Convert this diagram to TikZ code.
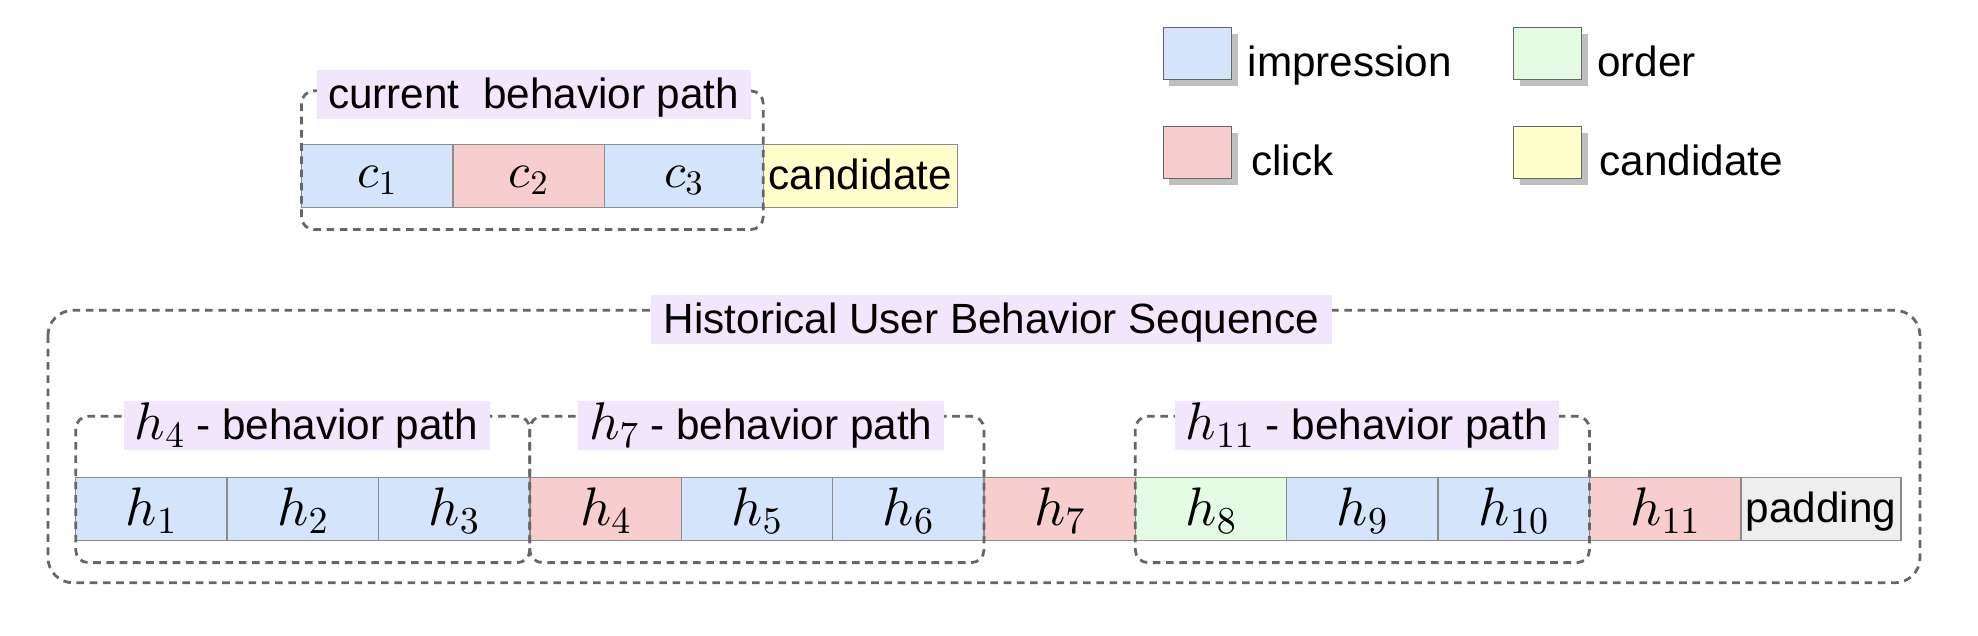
\documentclass[tikz,border=0pt]{standalone}
\usepackage[no-math]{fontspec}
\setmainfont{Liberation Sans}
\DeclareFontFamily{OML}{cmm}{\skewchar\font127}
\DeclareFontShape{OML}{cmm}{m}{it}{<->cmmi10}{}
\DeclareFontShape{OT1}{cmr}{m}{n}{<->cmr10}{}
\DeclareFontFamily{OMS}{cmsy}{\skewchar\font48}
\DeclareFontShape{OMS}{cmsy}{m}{n}{<->cmsy10}{}
\definecolor{impc}{HTML}{D4E4FA}
\definecolor{clickc}{HTML}{F8CDCD}
\definecolor{orderc}{HTML}{E3FCE3}
\definecolor{candc}{HTML}{FFFFCC}
\definecolor{padc}{HTML}{EEEEEE}
\definecolor{lblc}{HTML}{F1E6FC}
\definecolor{dashc}{HTML}{666666}
\definecolor{cellb}{HTML}{8C8C8C}
\definecolor{shadc}{HTML}{BFBFBF}
\begin{document}
\begin{tikzpicture}[x=1pt,y=-1pt,
  every node/.style={font=\fontsize{33.5}{40}\selectfont, inner sep=0pt, outer sep=0pt},
  cell/.style={draw=cellb, line width=1.1pt, minimum height=49.5pt, minimum width=120pt},
  hcell/.style={cell, font=\fontsize{43}{48}\selectfont, text height=26pt, text depth=0pt},
  ccell/.style={cell, minimum height=50pt, font=\fontsize{39}{44}\selectfont, text height=20pt, text depth=2pt},
  tcell/.style={cell, text height=26pt, text depth=4pt},
  pathbox/.style={draw=dashc, line width=2.2pt, dash pattern=on 6pt off 4.5pt, rounded corners=10pt},
  bigbox/.style={pathbox, rounded corners=20pt},
  lbl/.style={fill=lblc, inner xsep=9pt, minimum height=39pt, text height=26pt, text depth=4pt},
  legsq/.style={draw=dashc, line width=0.9pt, minimum width=54pt, minimum height=41pt},
  legshadow/.style={fill=shadc, minimum width=54pt, minimum height=41pt},
  legtxt/.style={anchor=base west},
]
\useasboundingbox (0,0) rectangle (1568,504);

% ---------- legend ----------
\node[legshadow] (simp) at (954,47.5) {};
\node[legsq, fill=impc] (limp) at (949,42.5) {};
\node[legtxt] (timp) at (989,61) {impression};
\node[legshadow] (sord) at (1232,47.5) {};
\node[legsq, fill=orderc] (lord) at (1227,42.5) {};
\node[legtxt] (tord) at (1266,61) {order};
\node[legshadow] (sclk) at (954,126) {};
\node[legsq, fill=clickc] (lclk) at (949,121) {};
\node[legtxt] (tclk) at (992,139) {click};
\node[legshadow] (scand) at (1232,126) {};
\node[legsq, fill=candc] (lcand) at (1227,121) {};
\node[legtxt] (tcand) at (1268,139) {candidate};

% ---------- current behavior path ----------
\node[ccell, fill=impc] (c1) at (299,139.5) {$c_1$};
\node[ccell, fill=clickc] (c2) at (419,139.5) {$c_2$};
\node[ccell, fill=impc, minimum width=126pt] (c3) at (542,139.5) {$c_3$};
\node[tcell, fill=candc, minimum width=154pt, minimum height=50pt] (cand) at (682,139.5) {candidate};
\draw[pathbox] (239,72) rectangle (605,182);
\node[lbl] (curlbl) at (423,75) {current\ \ behavior path};

% ---------- historical sequence ----------
\node[hcell, fill=impc]   (h1)  at (120,403.5) {$h_1$};
\node[hcell, fill=impc]   (h2)  at (240,403.5) {$h_2$};
\node[hcell, fill=impc]   (h3)  at (360,403.5) {$h_3$};
\node[hcell, fill=clickc] (h4)  at (480,403.5) {$h_4$};
\node[hcell, fill=impc]   (h5)  at (600,403.5) {$h_5$};
\node[hcell, fill=impc]   (h6)  at (720,403.5) {$h_6$};
\node[hcell, fill=clickc] (h7)  at (840,403.5) {$h_7$};
\node[hcell, fill=orderc] (h8)  at (960,403.5) {$h_8$};
\node[hcell, fill=impc]   (h9)  at (1080,403.5) {$h_9$};
\node[hcell, fill=impc]   (h10) at (1200,403.5) {$h_{10}$};
\node[hcell, fill=clickc] (h11) at (1320,403.5) {$h_{11}$};
\node[tcell, fill=padc, minimum width=127pt] (pad) at (1443.5,403.5) {padding};

\draw[bigbox] (38,246) rectangle (1522,462);
\draw[pathbox] (60,330) rectangle (420,446);
\draw[pathbox] (420,330) rectangle (780,446);
\draw[pathbox] (900,330) rectangle (1260,446);

\node[lbl, inner xsep=10pt] (histlbl) at (786,253.5) {Historical User Behavior Sequence};
\node[lbl] (p4)  at (243,337.5)  {{\fontsize{42}{46}\selectfont$h_4$} - behavior path};
\node[lbl] (p7)  at (603,337.5)  {{\fontsize{42}{46}\selectfont$h_7$} - behavior path};
\node[lbl] (p11) at (1083.5,337.5) {{\fontsize{42}{46}\selectfont$h_{11}$} - behavior path};
\end{tikzpicture}
\end{document}
